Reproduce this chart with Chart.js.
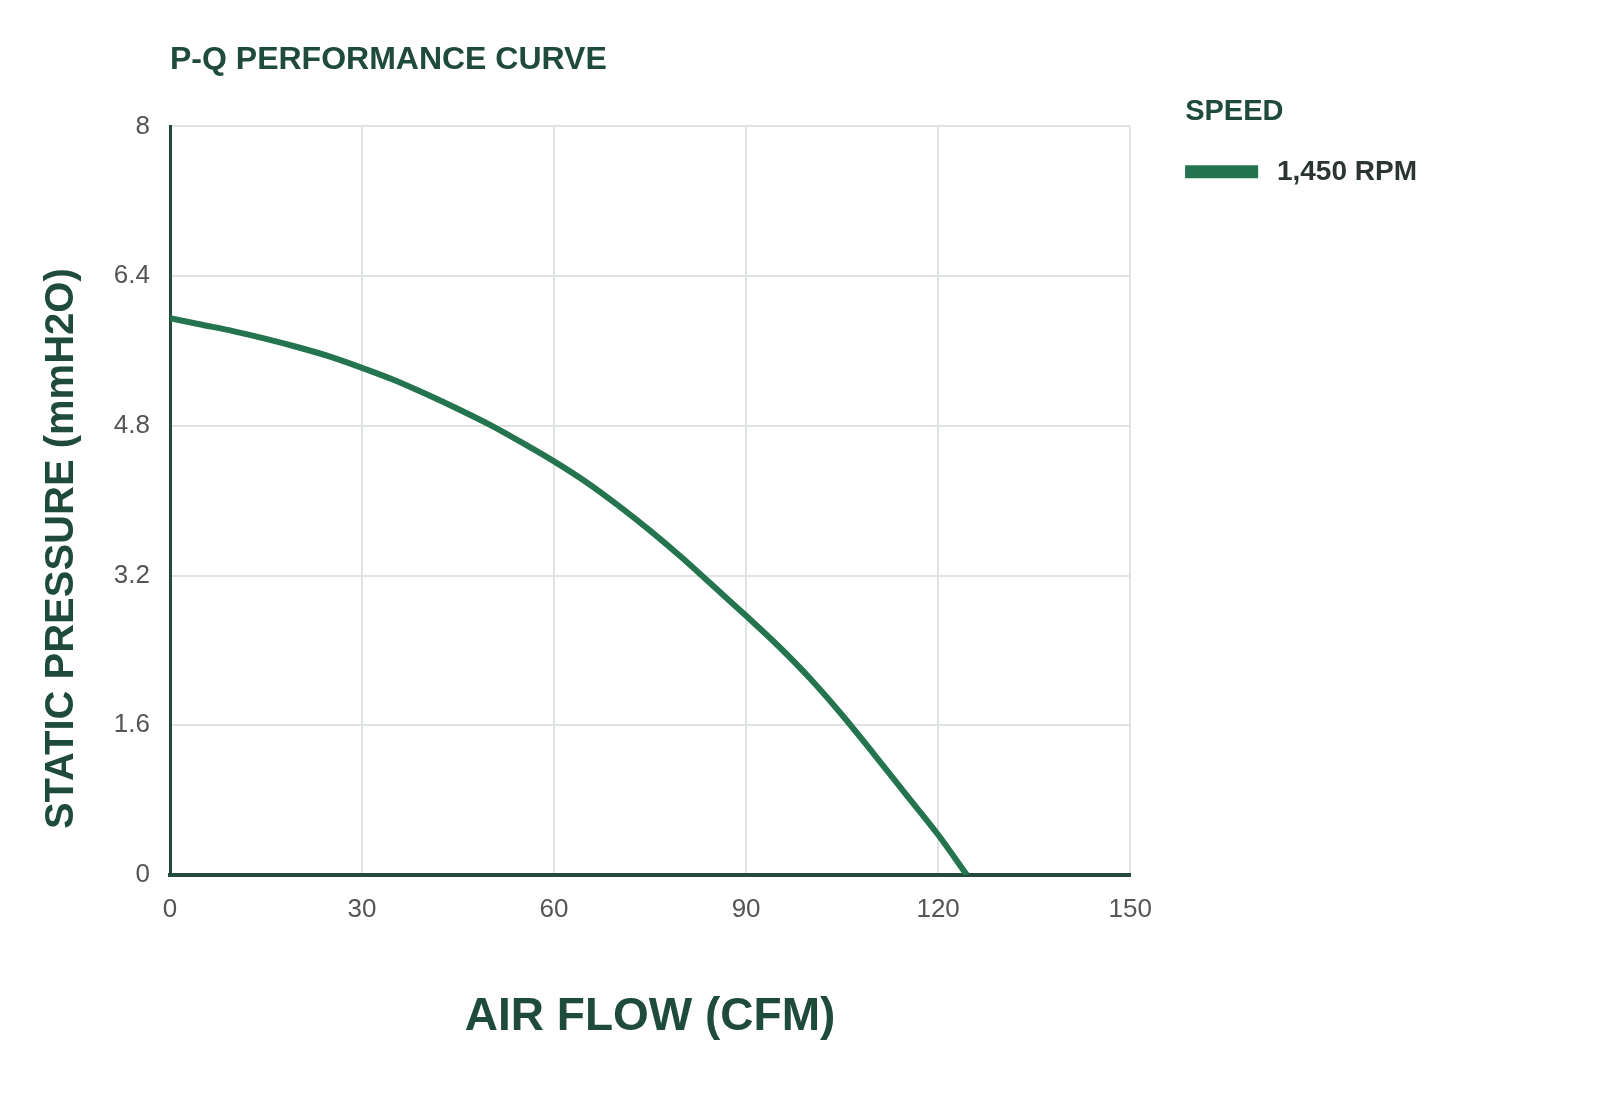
<!DOCTYPE html>
<html>
<head>
<meta charset="utf-8">
<title>P-Q Performance Curve</title>
<script src="https://cdn.jsdelivr.net/npm/chart.js@4.4.1/dist/chart.umd.min.js"></script>
<style>
  html, body { margin: 0; padding: 0; background: #fff; }
  #wrap { width: 1600px; height: 1100px; }
</style>
</head>
<body>
<div id="wrap"><canvas id="pq-chart" width="1600" height="1100"></canvas></div>
<script>
// Data
const airFlow = [0, 5, 10, 15, 20, 25, 30, 35, 40, 45, 50, 55, 60, 65, 70, 75, 80, 85, 90, 95, 100, 105, 110, 115, 120, 124.5];
const staticPressure = [5.95, 5.88, 5.81, 5.73, 5.64, 5.54, 5.42, 5.29, 5.14, 4.98, 4.81, 4.62, 4.42, 4.20, 3.95, 3.68, 3.39, 3.08, 2.77, 2.45, 2.10, 1.71, 1.29, 0.86, 0.43, 0];
const seriesLabel = '1,450 RPM';
const xTicks = [0, 30, 60, 90, 120, 150];
const yTicks = [0, 1.6, 3.2, 4.8, 6.4, 8];

const FONT = '"Liberation Sans", Arial, sans-serif';
const DARK_GREEN = '#1f4b3b';
const LINE_GREEN = '#23744f';

// push the legend a little away from the plot area
const legendShift = {
  id: 'legendShift',
  afterLayout(chart) {
    const lg = chart.legend;
    const w = lg.width;
    lg.left = chart.chartArea.right + 55;
    lg.right = lg.left + w;
  }
};

// y axis title sits a bit lower than the plot centre in the original
const yTitle = {
  id: 'yTitle',
  afterDraw(chart) {
    const { ctx, chartArea } = chart;
    ctx.save();
    ctx.translate(62, (chartArea.top + chartArea.bottom) / 2 + 48);
    ctx.rotate(-Math.PI / 2);
    ctx.font = 'bold 40px ' + FONT;
    ctx.fillStyle = DARK_GREEN;
    ctx.textAlign = 'center';
    ctx.textBaseline = 'middle';
    ctx.fillText('STATIC PRESSURE (mmH2O)', 0, 0);
    ctx.restore();
  }
};

const ctx = document.getElementById('pq-chart').getContext('2d');
new Chart(ctx, {
  type: 'line',
  data: {
    datasets: [{
      label: seriesLabel,
      data: airFlow.map((q, i) => ({ x: q, y: staticPressure[i] })),
      borderColor: LINE_GREEN,
      backgroundColor: LINE_GREEN,
      borderWidth: 6,
      pointRadius: 0,
      cubicInterpolationMode: 'monotone',
      fill: false
    }]
  },
  options: {
    responsive: false,
    animation: false,
    layout: { padding: { top: 0, left: 0, right: 228, bottom: 0 } },
    plugins: {
      title: {
        display: true,
        text: 'P-Q PERFORMANCE CURVE',
        align: 'start',
        fullSize: false,
        color: DARK_GREEN,
        font: { family: FONT, size: 32, weight: 'bold' },
        padding: { top: 41, bottom: 47 }
      },
      legend: {
        position: 'right',
        align: 'start',
        title: {
          display: true,
          text: 'SPEED',
          position: 'start',
          color: DARK_GREEN,
          font: { family: FONT, size: 29, weight: 'bold' },
          padding: { top: 97, bottom: 26 }
        },
        labels: {
          boxWidth: 70,
          boxHeight: 7,
          padding: 0,
          color: '#2c3631',
          font: { family: FONT, size: 28, weight: 'bold' },
          generateLabels: chart =>
            Chart.defaults.plugins.legend.labels.generateLabels(chart)
              .map(item => Object.assign(item, { text: ' ' + item.text }))
        }
      },
      tooltip: { enabled: false }
    },
    scales: {
      x: {
        type: 'linear',
        min: 0,
        max: 150,
        afterBuildTicks: axis => { axis.ticks = xTicks.map(v => ({ value: v })); },
        afterFit: axis => { axis.height = 225; },
        grid: { color: '#dfe4e1', lineWidth: 2, drawTicks: false, tickLength: 0 },
        border: { color: '#234a3b', width: 4 },
        ticks: { color: '#555', padding: 19, font: { family: FONT, size: 26 } },
        title: {
          display: true,
          text: 'AIR FLOW (CFM)',
          color: DARK_GREEN,
          font: { family: FONT, size: 46, weight: 'bold' },
          padding: { top: 0, bottom: 55 }
        }
      },
      y: {
        min: 0,
        max: 8,
        afterBuildTicks: axis => { axis.ticks = yTicks.map(v => ({ value: v })); },
        afterFit: axis => { axis.width = 170; },
        grid: { color: '#dfe4e1', lineWidth: 2, drawTicks: false, tickLength: 0 },
        border: { color: '#234a3b', width: 3 },
        ticks: { color: '#555', padding: 20, font: { family: FONT, size: 26 } }
      }
    }
  },
  plugins: [legendShift, yTitle]
});
</script>
</body>
</html>
